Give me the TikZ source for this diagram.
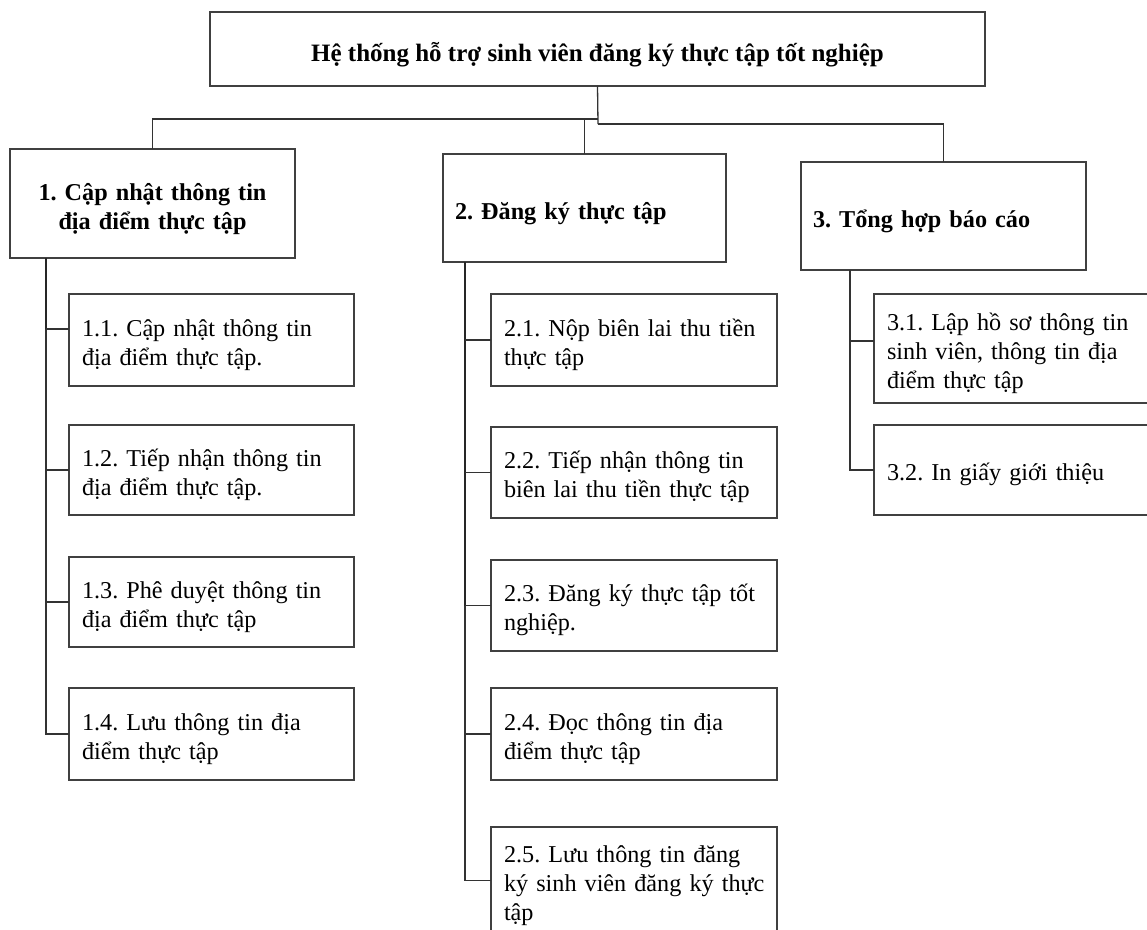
\documentclass[tikz,border=0pt]{standalone}
\usepackage{fontspec}
\setmainfont{Liberation Serif}
\begin{document}
\frenchspacing
\begin{tikzpicture}[x=1pt,y=-1pt,
  box/.style={draw=black!75, line width=1.3pt, outer sep=0pt, inner ysep=0pt,
    font=\fontsize{24.2}{29}\selectfont\frenchspacing},
  headbox/.style={box, text height=28.5pt, font=\fontsize{24.2}{28.5}\selectfont\frenchspacing\bfseries},
  rootbox/.style={box, text height=31pt, font=\fontsize{25}{29}\selectfont\frenchspacing\bfseries},
  leafbox/.style={box, text height=26.5pt, inner xsep=13pt, align=left},
  conn/.style={draw=black!80, line width=1.3pt},
  thickconn/.style={draw=black!85, line width=2.6pt}]
\useasboundingbox (0,0) rectangle (1147,929);

% root
\node[rootbox, inner xsep=0pt, minimum width=775pt, minimum height=74pt] (T) at (597.5,49)
  {Hệ thống hỗ trợ sinh viên đăng ký thực tập tốt nghiệp};

% level 1
\node[headbox, inner xsep=12pt, text width=261pt, align=center, minimum height=109pt] (c1) at (152.5,203.5)
  {1. Cập nhật thông tin\\địa điểm thực tập};
\node[headbox, inner xsep=12pt, text width=259pt, align=left, minimum height=108pt] (c2) at (584.5,208)
  {2. Đăng ký thực tập};
\node[headbox, inner xsep=12pt, text width=261pt, align=left, minimum height=108pt] (c3) at (943.5,216)
  {3. Tổng hợp báo cáo};

% level 2, column 1
\node[leafbox, text width=259pt, minimum height=92pt] (c11) at (211.5,340)
  {1.1. Cập nhật thông tin\\địa điểm thực tập.};
\node[leafbox, text width=259pt, minimum height=90pt] (c12) at (211.5,470)
  {1.2. Tiếp nhận thông tin\\địa điểm thực tập.};
\node[leafbox, text width=259pt, minimum height=90pt] (c13) at (211.5,602)
  {1.3. Phê duyệt thông tin\\địa điểm thực tập};
\node[leafbox, text width=259pt, minimum height=92pt] (c14) at (211.5,734)
  {1.4. Lưu thông tin địa\\điểm thực tập};

% level 2, column 2
\node[leafbox, text width=260pt, minimum height=92pt] (c21) at (634,340)
  {2.1. Nộp biên lai thu tiền\\thực tập};
\node[leafbox, text width=260pt, minimum height=91pt] (c22) at (634,472.5)
  {2.2. Tiếp nhận thông tin\\biên lai thu tiền thực tập};
\node[leafbox, text width=260pt, minimum height=91pt] (c23) at (634,605.5)
  {2.3. Đăng ký thực tập tốt\\nghiệp.};
\node[leafbox, text width=260pt, minimum height=92pt] (c24) at (634,734)
  {2.4. Đọc thông tin địa\\điểm thực tập};
\node[leafbox, text width=260pt, minimum height=107pt] (c25) at (634,880.5)
  {2.5. Lưu thông tin đăng\\\mbox{ký sinh viên đăng ký thực}\\tập};

% level 2, column 3
\node[leafbox, text width=265pt, minimum height=109pt] (c31) at (1019.5,348.5)
  {3.1. Lập hồ sơ thông tin\\sinh viên, thông tin địa\\điểm thực tập};
\node[leafbox, text width=265pt, minimum height=90pt] (c32) at (1019.5,470)
  {3.2. In giấy giới thiệu};

% root connectors
\coordinate (jL) at (598,119);
\coordinate (jR) at (598,124);
\draw[conn] (T.south) -- (jR);
\draw[conn] (jL) -| (c1.north);
\draw[conn] (jL) -| (c2.north);
\draw[conn] (jR) -| (c3.north);

% column spines
\coordinate (s1) at (46,258);
\coordinate (s2) at (465,262);
\coordinate (s3) at (850,270);

\coordinate (b11) at ([yshift=11pt]c11.west);
\draw[conn] (c1.south -| s1) -- (s1 |- c14.west) -- (c14.west);
\draw[thickconn] (c1.south -| s1) -- (s1 |- b11);
\draw[conn] (s1 |- b11) -- (b11);
\draw[conn] (s1 |- c12.west) -- (c12.west);
\draw[conn] (s1 |- c13.west) -- (c13.west);

\coordinate (b25) at (c25.west);
\draw[conn] (c2.south -| s2) -- (s2 |- b25) -- (b25);
\draw[thickconn] (c2.south -| s2) -- (s2 |- c23.west);
\draw[conn] (s2 |- c21.west) -- (c21.west);
\draw[conn] (s2 |- c22.west) -- (c22.west);
\draw[conn] (s2 |- c23.west) -- (c23.west);
\draw[conn] (s2 |- c24.west) -- (c24.west);

\coordinate (b31) at ([yshift=7.5pt]c31.west);
\draw[conn] (c3.south -| s3) -- (s3 |- c32.west) -- (c32.west);
\draw[conn] (s3 |- b31) -- (b31);
\end{tikzpicture}
\end{document}
